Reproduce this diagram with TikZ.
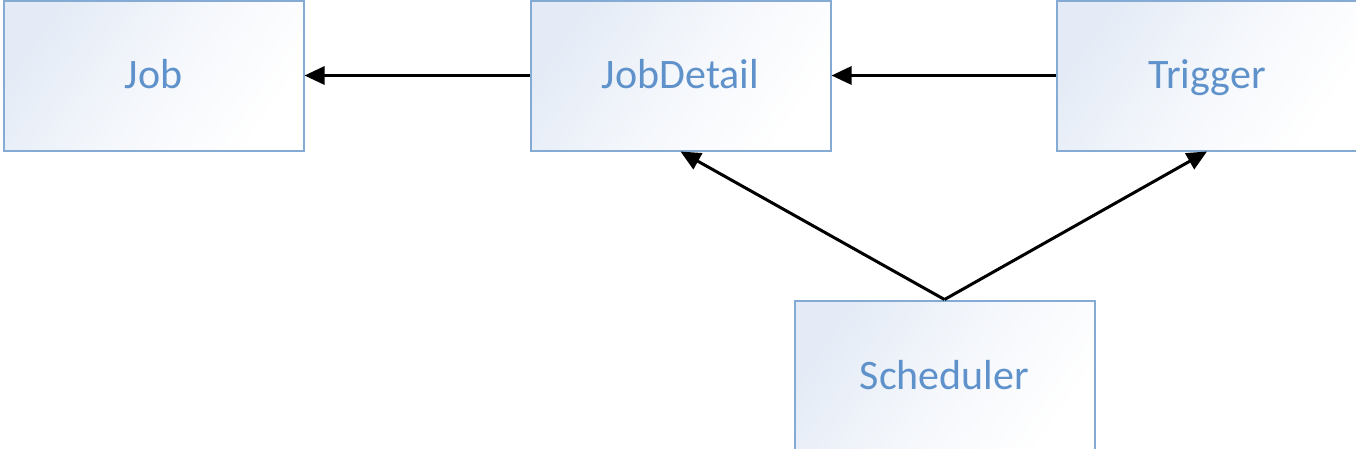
\documentclass[tikz,border=0pt]{standalone}
\usepackage{fontspec}
\setmainfont{Carlito}
\usetikzlibrary{arrows.meta}
\definecolor{boxline}{RGB}{133,170,212}
\definecolor{boxtext}{RGB}{95,146,202}
\definecolor{boxfill}{RGB}{228,235,246}
\tikzset{
  cls/.style={draw=boxline, line width=2pt, left color=boxfill, right color=white, middle color=white!60!boxfill, shading angle=55,
    minimum width=300pt, minimum height=150pt, inner sep=0pt, text=boxtext,
    text height=30pt, text depth=5pt,
    font=\fontsize{42}{50}\selectfont},
  conn/.style={line width=3pt, -{Triangle[length=20pt,width=18pt]}}
}
\begin{document}
\begin{tikzpicture}[x=1pt,y=-1pt]
\useasboundingbox (0,0) rectangle (1356,448);
\node[cls] (job) at (153.5,75.5) {Job};
\node[cls] (jobdetail) at (680.5,75.5) {JobDetail};
\node[cls] (trigger) at (1207,75.5) {Trigger};
\node[cls, minimum height=152pt] (scheduler) at (944.5,376.5) {Scheduler};
\draw[conn] (jobdetail.west) -- (job.east);
\draw[conn] (trigger.west) -- (jobdetail.east);
\draw[conn] (scheduler.north) -- (jobdetail.south);
\draw[conn] (scheduler.north) -- (trigger.south);
\end{tikzpicture}
\end{document}
